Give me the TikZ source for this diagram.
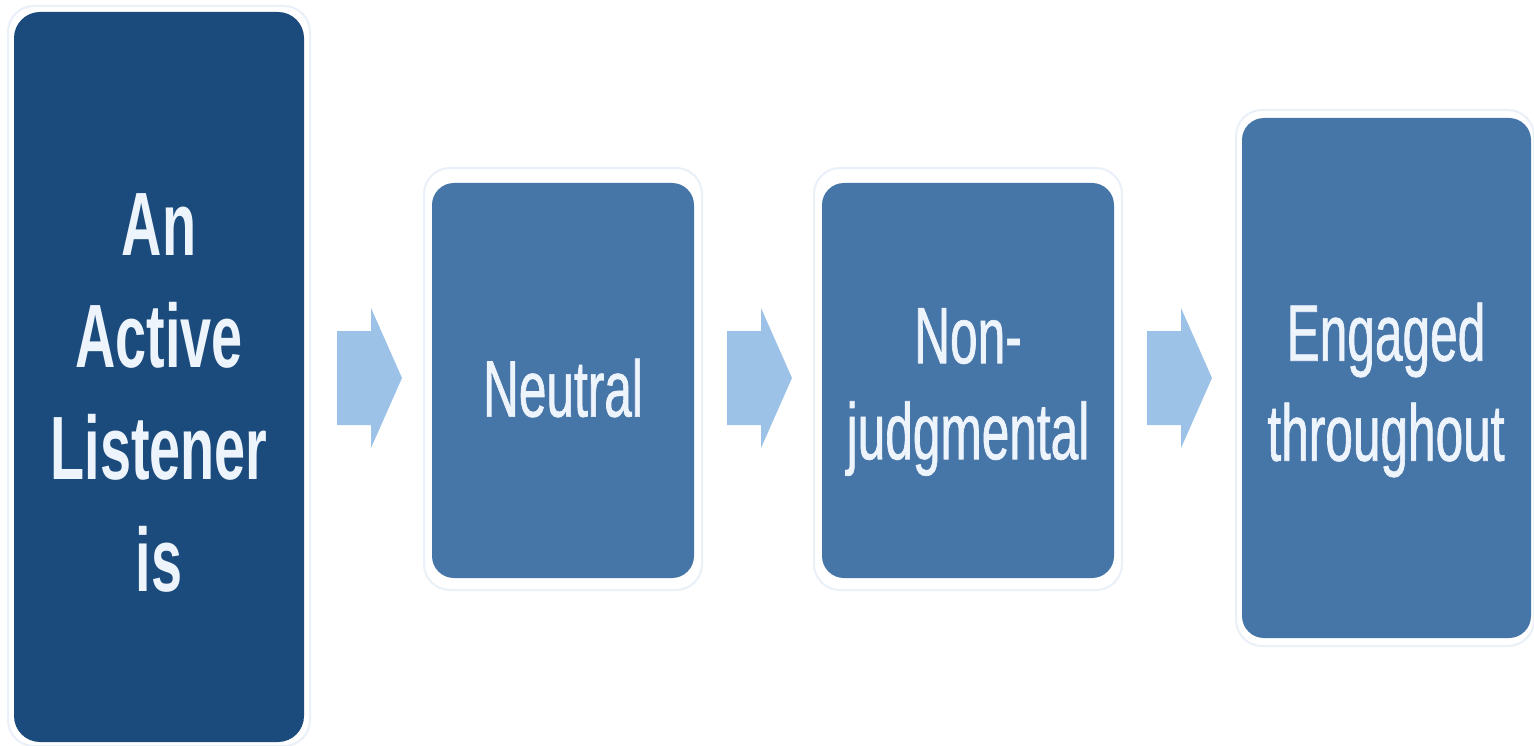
\documentclass[tikz,border=0pt]{standalone}
\usepackage{fontspec}
\newfontfamily\boxfont[FakeStretch=0.62]{Liberation Sans}
\newfontfamily\boxfontmed[FakeStretch=0.62,FakeBold=0.8]{Liberation Sans}
\usetikzlibrary{calc}
\definecolor{navy}{HTML}{1B4B7C}
\definecolor{midblue}{HTML}{4675A8}
\definecolor{arrowblue}{HTML}{9CC2E8}
\definecolor{paleline}{HTML}{E9F0F8}
\definecolor{textwhite}{HTML}{EEF4FB}
\begin{document}
\begin{tikzpicture}[x=1pt,y=-1pt,
  boxshape/.style={rounded corners=22pt},
  outerframe/.style={draw=paleline, line width=2pt, rounded corners=26pt},
  boxlabel/.style={text=textwhite, align=center, inner sep=0pt},
  arrowfill/.style={fill=arrowblue, draw=none}]
\useasboundingbox (0,0) rectangle (1534,746);
\fill[white] (0,0) rectangle (1534,746);
% outer pale frames
\draw[outerframe] (8,6) rectangle (310,746);
\draw[outerframe] (424,168) rectangle (702,590);
\draw[outerframe] (814,168) rectangle (1122,590);
\draw[outerframe] (1236,110) rectangle (1534,646);
% boxes
\fill[navy, boxshape, rounded corners=26pt] (14,12) rectangle (304,742);
\fill[midblue, boxshape] (432,183) rectangle (694,578);
\fill[midblue, boxshape] (822,183) rectangle (1114,578);
\fill[midblue, boxshape] (1242,118) rectangle (1531,638);
\coordinate (b1) at (159,377);
\coordinate (b2) at (563,380);
\coordinate (b3) at (968,380);
\coordinate (b4) at (1386,378);
\node[boxlabel, font={\boxfont\bfseries\fontsize{90}{112}\selectfont}] (t1) at ($(b1)+(0,16)$) {An\\Active\\Listener\\is};
\node[boxlabel, font={\boxfontmed\fontsize{80}{80}\selectfont}] (t2) at ($(b2)+(0,8)$) {Neutral};
\node[boxlabel, font={\boxfontmed\fontsize{80}{96}\selectfont}] (t3) at ($(b3)+(0,12)$) {Non-\\judgmental};
\node[boxlabel, font={\boxfontmed\fontsize{80}{100}\selectfont}] (t4) at ($(b4)+(0,12)$) {Engaged\\throughout};
% arrows
\coordinate (a1) at (369,378);
\coordinate (a2) at (759,378);
\coordinate (a3) at (1179,378);
\foreach \a in {a1,a2,a3}{
  \fill[arrowfill, shift={(\a)}] (-32,-47) -- (2,-47) -- (2,-70) -- (33,0) -- (2,70) -- (2,47) -- (-32,47) -- cycle;
}
\end{tikzpicture}
\end{document}
